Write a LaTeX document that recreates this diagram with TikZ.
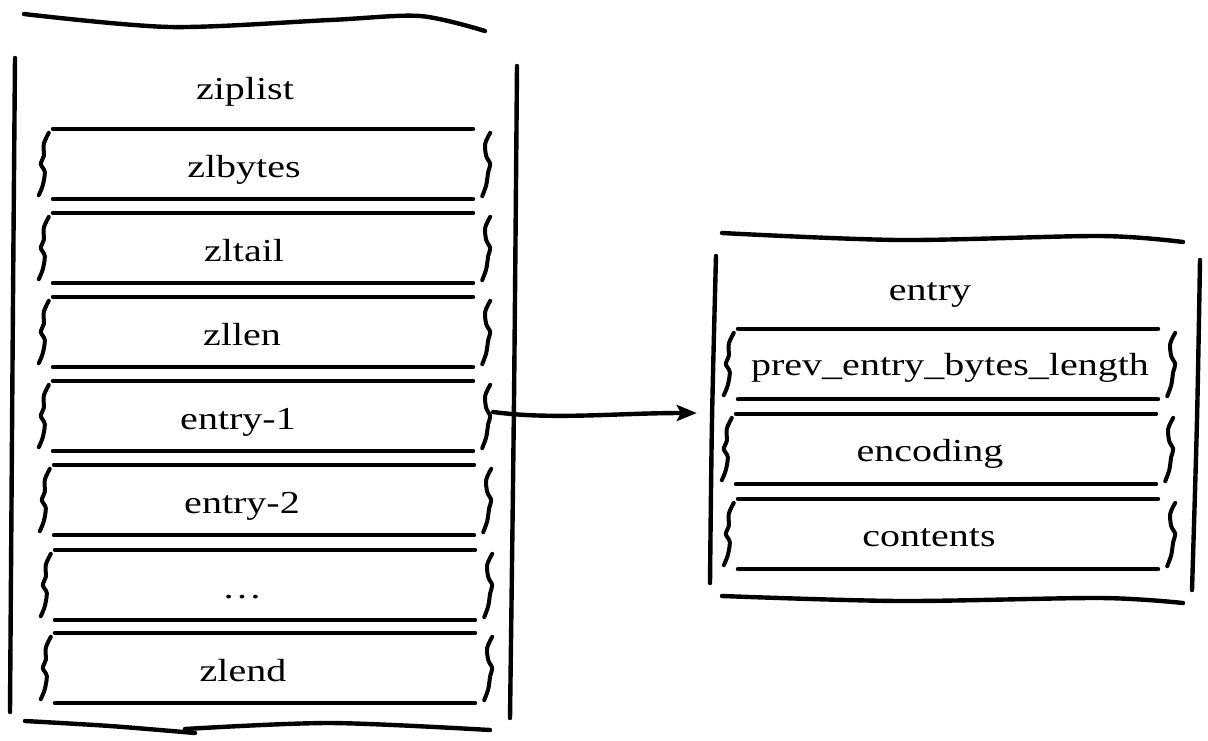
\documentclass[tikz,border=0pt]{standalone}
\usepackage{fontspec}
\setmainfont{Liberation Serif}[FakeStretch=1.25]
\usetikzlibrary{arrows.meta,calc}
\tikzset{
  hand/.style={line width=4.4pt, line cap=round, line join=round},
  thin/.style={line width=4pt, line cap=round, line join=round},
  row/.style={minimum width=420pt, minimum height=70pt, inner sep=0pt},
  lbl/.style={inner sep=0pt, anchor=base, font=\fontsize{32}{36}\selectfont},
  frame/.style={inner sep=0pt},
  arr/.style={hand, -{Stealth[length=20pt,width=16pt,inset=4pt]}},
}
\newcommand\handrow[1]{%
  \draw[thin] (#1.north west) -- (#1.north east);
  \draw[thin] (#1.south west) -- (#1.south east);
  \draw[thin] plot[smooth] coordinates {([xshift=-4pt,yshift=-4pt]#1.north west) ([xshift=-9pt,yshift=-15pt]#1.north west) ([xshift=-9pt,yshift=8pt]#1.west) ([xshift=-12pt]#1.west) ([xshift=-8pt,yshift=-8pt]#1.west) ([xshift=-10pt,yshift=14pt]#1.south west) ([xshift=-14pt,yshift=4pt]#1.south west)};
  \draw[thin] plot[smooth] coordinates {([xshift=17pt,yshift=-4pt]#1.north east) ([xshift=12pt,yshift=-15pt]#1.north east) ([xshift=13pt,yshift=8pt]#1.east) ([xshift=17pt]#1.east) ([xshift=15pt,yshift=-8pt]#1.east) ([xshift=13pt,yshift=14pt]#1.south east) ([xshift=9pt,yshift=3pt]#1.south east)};
}
\begin{document}
\begin{tikzpicture}[x=1pt,y=-1pt]
\useasboundingbox (0,0) rectangle (1208,740);
% ziplist outer frame
\draw[hand] plot[smooth] coordinates {(24,14) (170,27) (330,20) (420,16) (485,31)};
\draw[hand] plot[smooth] coordinates {(15,58) (13,300) (10,712)};
\draw[hand] plot[smooth] coordinates {(517,66) (514,400) (510,718)};
\draw[hand] plot[smooth] coordinates {(25,721) (110,726) (195,733)};
\draw[hand] plot[smooth] coordinates {(185,729) (330,723) (490,730)};
\node[frame, minimum width=505pt, minimum height=700pt] (zl) at (263,368) {};
\node[lbl] (t1) at (245,99) {ziplist};
\node[row] (r1) at (263,164) {};
\node[row] (r2) at (263,248) {};
\node[row] (r3) at (263,332) {};
\node[row] (r4) at (263,416) {};
\node[row] (r5) at (264,500) {};
\node[row] (r6) at (265,585) {};
\node[row] (r7) at (265,668) {};
\foreach \n in {r1,r2,r3,r4,r5,r6,r7} {\handrow{\n}}
\node[lbl] (l1) at ([xshift=-19pt,yshift=-13pt]r1.center) {zlbytes};
\node[lbl] (l2) at ([xshift=-19pt,yshift=-13pt]r2.center) {zltail};
\node[lbl] (l3) at ([xshift=-21pt,yshift=-13pt]r3.center) {zllen};
\node[lbl] (l4) at ([xshift=-25pt,yshift=-13pt]r4.center) {entry-1};
\node[lbl] (l5) at ([xshift=-22pt,yshift=-13pt]r5.center) {entry-2};
\node[lbl] (l6) at ([xshift=-23pt,yshift=-13pt]r6.center) {\dots};
\node[lbl] (l7) at ([xshift=-22pt,yshift=-13pt]r7.center) {zlend};
% entry outer frame
\draw[hand] plot[smooth] coordinates {(722,233) (900,240) (1100,236) (1183,242)};
\draw[hand] plot[smooth] coordinates {(716,256) (712,420) (710,583)};
\draw[hand] plot[smooth] coordinates {(1200,260) (1197,420) (1192,590)};
\draw[hand] plot[smooth] coordinates {(722,596) (900,601) (1100,598) (1183,603)};
\node[frame, minimum width=482pt, minimum height=350pt] (eb) at (957,420) {};
\node[lbl] (t2) at (930,300) {entry};
\node[row] (s1) at (948,364) {};
\node[row] (s2) at (946,449) {};
\node[row] (s3) at (948,534) {};
\foreach \n in {s1,s2,s3} {\handrow{\n}}
\node[lbl] (m1) at ([xshift=2pt,yshift=-11pt]s1.center) {prev\_entry\_bytes\_length};
\node[lbl] (m2) at ([xshift=-16pt,yshift=-12pt]s2.center) {encoding};
\node[lbl] (m3) at ([xshift=-19pt,yshift=-12pt]s3.center) {contents};
% arrow
\coordinate (a0) at ([xshift=20pt,yshift=4pt]r4.east);
\coordinate (a1) at ([xshift=-19pt,yshift=7pt]eb.west);
\draw[arr] (a0) .. controls ($(a0)+(60,8)$) and ($(a1)+(-80,0)$) .. (a1);
\end{tikzpicture}
\end{document}
